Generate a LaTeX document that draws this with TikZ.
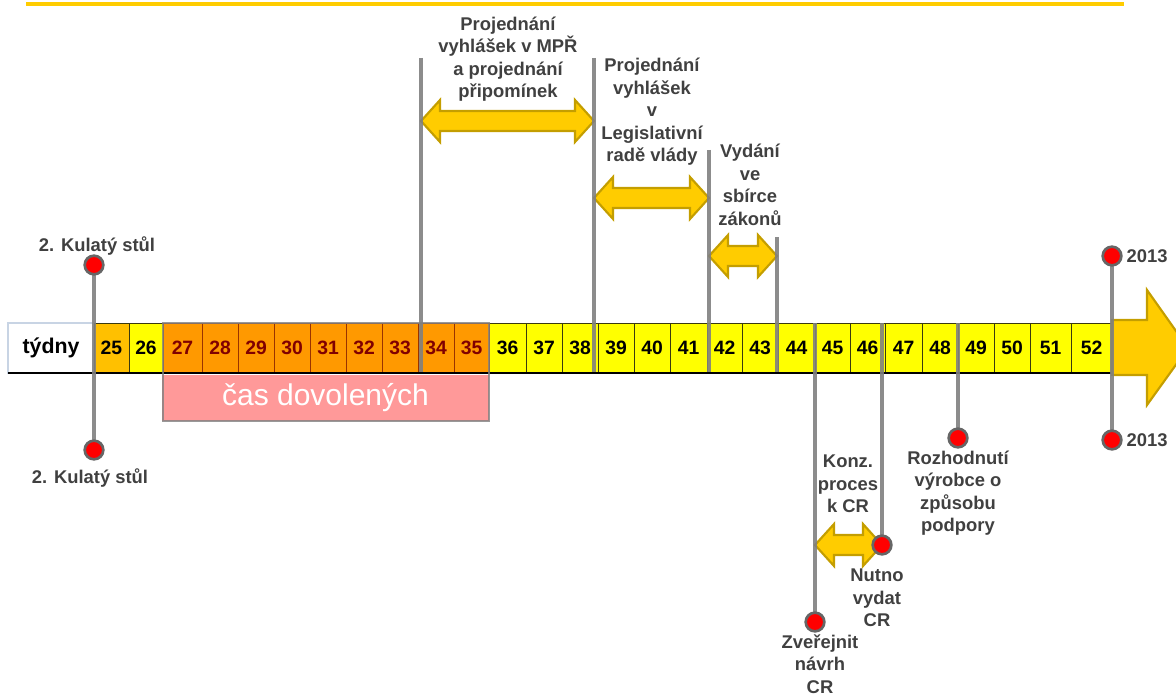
\documentclass[tikz,border=0pt]{standalone}
\usepackage{fontspec}
\setmainfont{Liberation Sans}
\usepackage{tikz}
\usetikzlibrary{positioning,calc}

\definecolor{labelgray}{HTML}{404040}
\definecolor{stemgray}{HTML}{808080}
\definecolor{dotrim}{HTML}{666666}
\definecolor{gold}{HTML}{FFCC00}
\definecolor{golddark}{HTML}{C49E00}
\definecolor{weekyellow}{HTML}{FFFF00}
\definecolor{weekamber}{HTML}{FFC000}
\definecolor{weekorange}{HTML}{FF9900}
\definecolor{weekline}{HTML}{3A3A10}
\definecolor{orangeline}{HTML}{993300}
\definecolor{darkred}{HTML}{800000}
\definecolor{holidaypink}{HTML}{FF9999}
\definecolor{tydnyline}{HTML}{C8D4E4}

\begin{document}
\begin{tikzpicture}[x=0.75pt, y=-0.75pt,
	every node/.style={inner sep=0pt, outer sep=0pt},
	week/.style={rectangle, line width=0.7pt, minimum height=37.5pt,
		font=\bfseries\fontsize{14.5}{17}\selectfont},
	week yellow/.style={week, draw=weekline, fill=weekyellow, text=black},
	week amber/.style={week, draw=weekline, fill=weekamber, text=black},
	week orange/.style={week, draw=orangeline, fill=weekorange, text=darkred},
	stem/.style={draw=stemgray, line width=3.5pt, opacity=.9},
	dot/.style={circle, fill=red, draw=dotrim, line width=2pt, minimum size=14pt},
	dblarrow/.style={fill=gold, draw=golddark, line width=1.6pt, line join=miter},
	timeline label/.style={align=center, text=labelgray,
		font=\bfseries\fontsize{13.8}{16.9}\selectfont}]
	
	\useasboundingbox (0,0) rectangle (1176,695);
	
	% top rule
	\draw [gold, line width=2.3pt] (26,4) -- (1124,4);
	
	% weeks
	\node [draw=tydnyline, fill=white, line width=0.8pt, minimum width=64.5pt,
	minimum height=37.5pt, font=\bfseries\fontsize{16}{19}\selectfont] (tydny) at (51,348) {týdny};
	
	\foreach \n/\l/\r in {25/94/129}
	\node [week amber, minimum width={(\r-\l)*0.75pt}] (week-\n) at ({(\l+\r)/2},348) {\n};
	
	\foreach \n/\l/\r in {26/129/163, 36/489/526, 37/526/562, 38/562/598, 39/598/634,
		40/634/670, 41/670/707, 42/707/742, 43/742/778, 44/778/815, 45/815/850,
		46/850/885, 47/885/922, 48/922/958, 49/958/994, 50/994/1030, 51/1030/1071, 52/1071/1112}
	\node [week yellow, minimum width={(\r-\l)*0.75pt}] (week-\n) at ({(\l+\r)/2},348) {\n};
	
	\foreach \n/\l/\r in {27/163/202, 28/202/238, 29/238/274, 30/274/310, 31/310/346,
		32/346/382, 33/382/418, 34/418/454, 35/454/489}
	\node [week orange, minimum width={(\r-\l)*0.75pt}] (week-\n) at ({(\l+\r)/2},348) {\n};
	
	\draw [line width=1.9pt] (tydny.south west) -- (week-52.south east);
	
	% holidays
	\node [fill=holidaypink, minimum width=245.25pt, minimum height=34.5pt, text=white,
	font=\fontsize{22.5}{26}\selectfont] (holiday) at (325.5,397.5) {čas dovolených};
	\draw [stemgray, opacity=.8, line width=1.5pt] (week-27.north west) rectangle (holiday.south east);
	
	% double arrows
	\foreach \a/\b/\y in {421/594/121, 594/709/198, 709/777/256, 815/882/545}
	\draw [dblarrow] (\a,\y) -- (\a+19,\y-21) -- (\a+19,\y-10) -- (\b-19,\y-10)
	-- (\b-19,\y-21) -- (\b,\y) -- (\b-19,\y+21) -- (\b-19,\y+10)
	-- (\a+19,\y+10) -- (\a+19,\y+21) -- cycle;
	
	\draw [dblarrow] (1112,320) -- (1147,320) -- (1147,290) -- (1188,348)
	-- (1147,405) -- (1147,375) -- (1112,375) -- cycle;
	
	% stems
	\foreach \s/\x/\ya/\yb in {kul/94/265/450, mpr/421/58/372, lrv/594/58/372,
		sbi/709/150/372, zak/777/237/372, zve/815/323/622, nut/882/323/545,
		roz/958/323/438, end/1112/256/440}
	{
		\coordinate (\s-top) at (\x,\ya);
		\coordinate (\s-bot) at (\x,\yb);
		\draw [stem] (\s-top) -- (\s-bot);
	}
	
	\foreach \c in {kul-top, kul-bot, zve-bot, nut-bot, roz-bot, end-top, end-bot}
	\node [dot] (\c-dot) at (\c) {};
	
	% labels
	\node [timeline label] (kul-top-text) at (97,246) {2. Kulatý stůl};
	\node [timeline label] (kul-bot-text) at (90,478) {2. Kulatý stůl};
	\node [timeline label] (mpr-text) at (508,59) {Projednání\\vyhlášek v MPŘ\\a projednání\\připomínek};
	\node [timeline label] (lrv-text) at (652,112) {Projednání\\vyhlášek\\v\\Legislativní\\radě vlády};
	\node [timeline label] (sbi-text) at (750,185) {Vydání\\ve\\sbírce\\zákonů};
	\node [timeline label] (konz-text) at (848,484) {Konz.\\proces\\k CR};
	\node [timeline label] (nut-text) at (877,598) {Nutno\\vydat\\CR};
	\node [timeline label] (zve-text) at (820,664) {Zveřejnit\\návrh\\CR};
	\node [timeline label] (roz-text) at (958,493) {Rozhodnutí\\výrobce o\\způsobu\\podpory};
	\node [timeline label, right=4pt of end-top-dot] (end-top-text) {2013};
	\node [timeline label, right=4pt of end-bot-dot] (end-bot-text) {2013};
	
\end{tikzpicture}
\end{document}
